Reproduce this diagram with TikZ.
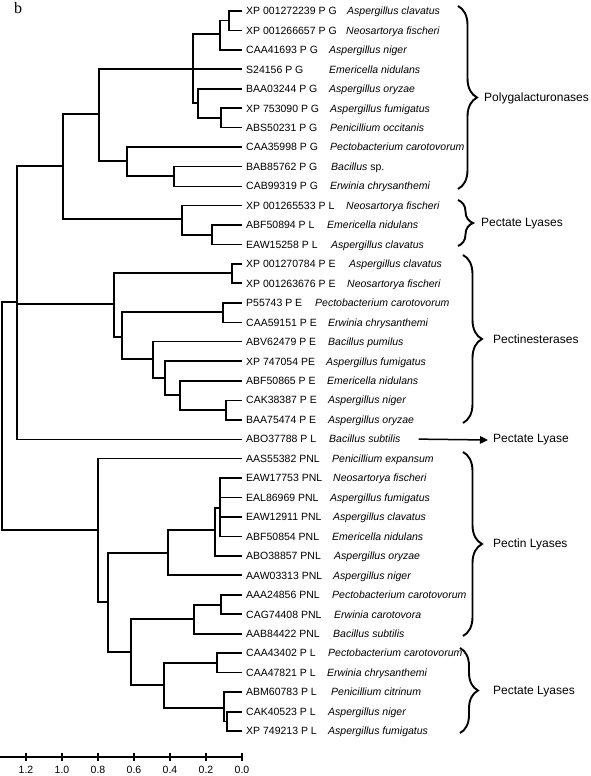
\documentclass[tikz,border=0pt]{standalone}
\usepackage{fontspec}
\setmainfont{Liberation Sans}
\newfontfamily\panelfont{Liberation Serif}
\usetikzlibrary{decorations.pathreplacing,arrows.meta}

\begin{document}
\begin{tikzpicture}[x=1pt,y=-1pt,
    br/.style={line width=1.1pt},
    brt/.style={line width=1.9pt},
    acc/.style={anchor=west,inner xsep=4pt,inner ysep=0pt,text height=7.5pt,text depth=0pt,
        font=\fontsize{10.5}{12}\selectfont},
    spc/.style={acc,inner xsep=0pt,font=\fontsize{10.5}{12}\selectfont\itshape},
    grp/.style={anchor=west,inner xsep=5pt,font=\fontsize{12}{14}\selectfont},
    brc/.style={decorate,decoration={brace,amplitude=#1},line width=1.9pt},
    axl/.style={line width=1.5pt}]
    \useasboundingbox (0,0) rectangle (591,776);
    \node[font=\panelfont\fontsize{16}{17}\selectfont] (panel) at (18,8) {b};
    % leaves: accession and species
    \foreach \i/\id/\sp/\sx in {
        0/XP 001272239 P G/Aspergillus clavatus/347,
        1/XP 001266657 P G/Neosartorya fischeri/346,
        2/CAA41693 P G/Aspergillus niger/329,
        3/S24156 P G/Emericella nidulans/329,
        4/BAA03244 P G/Aspergillus oryzae/329,
        5/XP 753090 P G/Aspergillus fumigatus/330,
        6/ABS50231 P G/Penicillium occitanis/330,
        7/CAA35998 P G/Pectobacterium carotovorum/330,
        8/BAB85762 P G/Bacillus \textup{sp.}/331,
        9/CAB99319 P G/Erwinia chrysanthemi/330,
        10/XP 001265533 P L/Neosartorya fischeri/346,
        11/ABF50894 P L/Emericella nidulans/327,
        12/EAW15258 P L/Aspergillus clavatus/331,
        13/XP 001270784 P E/Aspergillus clavatus/349,
        14/XP 001263676 P E/Neosartorya fischeri/347,
        15/P55743 P E/Pectobacterium carotovorum/315,
        16/CAA59151 P E/Erwinia chrysanthemi/328,
        17/ABV62479 P E/Bacillus pumilus/328,
        18/XP 747054 PE/Aspergillus fumigatus/326,
        19/ABF50865 P E/Emericella nidulans/327,
        20/CAK38387 P E/Aspergillus niger/328,
        21/BAA75474 P E/Aspergillus oryzae/328,
        22/ABO37788 P L/Bacillus subtilis/329,
        23/AAS55382 PNL/Penicillium expansum/332,
        24/EAW17753 PNL/Neosartorya fischeri/333,
        25/EAL86969 PNL/Aspergillus fumigatus/330,
        26/EAW12911 PNL/Aspergillus clavatus/333,
        27/ABF50854 PNL/Emericella nidulans/332,
        28/ABO38857 PNL/Aspergillus oryzae/334,
        29/AAW03313 PNL/Aspergillus niger/333,
        30/AAA24856 PNL/Pectobacterium carotovorum/332,
        31/CAG74408 PNL/Erwinia carotovora/334,
        32/AAB84422 PNL/Bacillus subtilis/333,
        33/CAA43402 P L/Pectobacterium carotovorum/328,
        34/CAA47821 P L/Erwinia chrysanthemi/327,
        35/ABM60783 P L/Penicillium citrinum/331,
        36/CAK40523 P L/Aspergillus niger/328,
        37/XP 749213 P L/Aspergillus fumigatus/328}{
        \node[acc] (l\i) at (242,{11+19.46*\i}) {\id};
        \node[spc] (s\i) at (\sx,{11+19.46*\i}) {\sp};
    }
    % inner nodes of the tree
    \coordinate (pg01) at (229,20.5);
    \coordinate (pg02) at (220,34);
    \coordinate (pg56) at (221,118);
    \coordinate (pg46) at (198,103);
    \coordinate (pg06) at (193,69);
    \coordinate (pg89) at (174,176);
    \coordinate (pg79) at (127,161);
    \coordinate (pg09) at (99,114);
    \coordinate (pl1112) at (212,235);
    \coordinate (pl1012) at (182,219);
    \coordinate (up012) at (63,166);
    \coordinate (pe1314) at (232,273);
    \coordinate (pe1516) at (223,312);
    \coordinate (pe2021) at (226,410);
    \coordinate (pe1921) at (180,395);
    \coordinate (pe1821) at (165,378);
    \coordinate (pe1721) at (153,359);
    \coordinate (pe1521) at (122,337);
    \coordinate (pe1321) at (114,304);
    \coordinate (top) at (17,302);
    \coordinate (pnl2427) at (220,508);
    \coordinate (pnl2428) at (215,530);
    \coordinate (pnl2429) at (168,553);
    \coordinate (pnl3031) at (221,605);
    \coordinate (pnl3032) at (194,619);
    \coordinate (pl3334) at (217,663);
    \coordinate (pl3637) at (227,721.5);
    \coordinate (pl3537) at (224,708);
    \coordinate (pl3337) at (164,685);
    \coordinate (pnl3037) at (131,652);
    \coordinate (pnl2437) at (108,602);
    \coordinate (low) at (98,530);
    \coordinate (root) at (2,416);
    % branches
    \foreach \p/\c/\w in {
        pg01/l0/brt, pg01/l1/br, pg02/pg01/br, pg02/l2/brt,
        pg56/l5/brt, pg56/l6/br, pg46/l4/brt, pg46/pg56/brt,
        pg06/pg02/brt, pg06/l3/brt, pg06/pg46/brt,
        pg89/l8/br, pg89/l9/br, pg79/l7/brt, pg79/pg89/brt,
        pg09/pg06/brt, pg09/pg79/br,
        pl1112/l11/brt, pl1112/l12/brt, pl1012/l10/br, pl1012/pl1112/brt,
        up012/pg09/brt, up012/pl1012/br,
        pe1314/l13/brt, pe1314/l14/brt, pe1516/l15/brt, pe1516/l16/br,
        pe2021/l20/br, pe2021/l21/brt, pe1921/l19/brt, pe1921/pe2021/brt,
        pe1821/l18/brt, pe1821/pe1921/br, pe1721/l17/br, pe1721/pe1821/br,
        pe1521/pe1516/brt, pe1521/pe1721/brt, pe1321/pe1314/brt, pe1321/pe1521/br,
        top/up012/brt, top/pe1321/brt, top/l22/br,
        pnl2427/l24/brt, pnl2427/l25/br, pnl2427/l26/brt, pnl2427/l27/br,
        pnl2428/pnl2427/br, pnl2428/l28/brt, pnl2429/pnl2428/br, pnl2429/l29/brt,
        pnl3031/l30/brt, pnl3031/l31/brt, pnl3032/pnl3031/brt, pnl3032/l32/brt,
        pl3334/l33/brt, pl3334/l34/br, pl3637/l36/brt, pl3637/l37/brt,
        pl3537/l35/brt, pl3537/pl3637/brt, pl3337/pl3334/brt, pl3337/pl3537/brt,
        pnl3037/pnl3032/brt, pnl3037/pl3337/br, pnl2437/pnl2429/br, pnl2437/pnl3037/brt,
        low/l23/br, low/pnl2437/brt, root/top/br, root/low/br}
        \draw[\w] (\p) |- (\c);
    % groups
    \node[grp] (pgase) at (479,98) {Polygalacturonases};
    \node[grp] (plyA) at (476,224) {Pectate Lyases};
    \node[grp] (peste) at (488,339) {Pectinesterases};
    \node[grp] (lyase) at (488,440) {Pectate Lyase};
    \node[grp] (pnly) at (488,544) {Pectin Lyases};
    \node[grp] (plyB) at (488,692) {Pectate Lyases};
    \draw[brc=19pt] (458,6) -- (458,189);
    \draw[brc=15pt] (458,200) -- (458,246);
    \draw[brc=19pt] (463,255) -- (463,423);
    \draw[brc=19pt] (463,452) -- (463,636);
    \draw[brc=18pt] (460,648) -- (460,733);
    \draw[line width=1.5pt,-{Triangle[length=8pt,width=7.5pt]}] ([xshift=18pt]s22.east) -- (lyase.west);
    % scale
    \draw[axl] (0,757) -- (242,757);
    \foreach \v [count=\k] in {0.0,0.2,0.4,0.6,0.8,1.0,1.2}
        \draw[axl] ({242-180*\v},753) -- ({242-180*\v},761)
            node[acc,anchor=center,inner xsep=0pt] (t\k) at ({242-180*\v},770) {\v};
\end{tikzpicture}
\end{document}
